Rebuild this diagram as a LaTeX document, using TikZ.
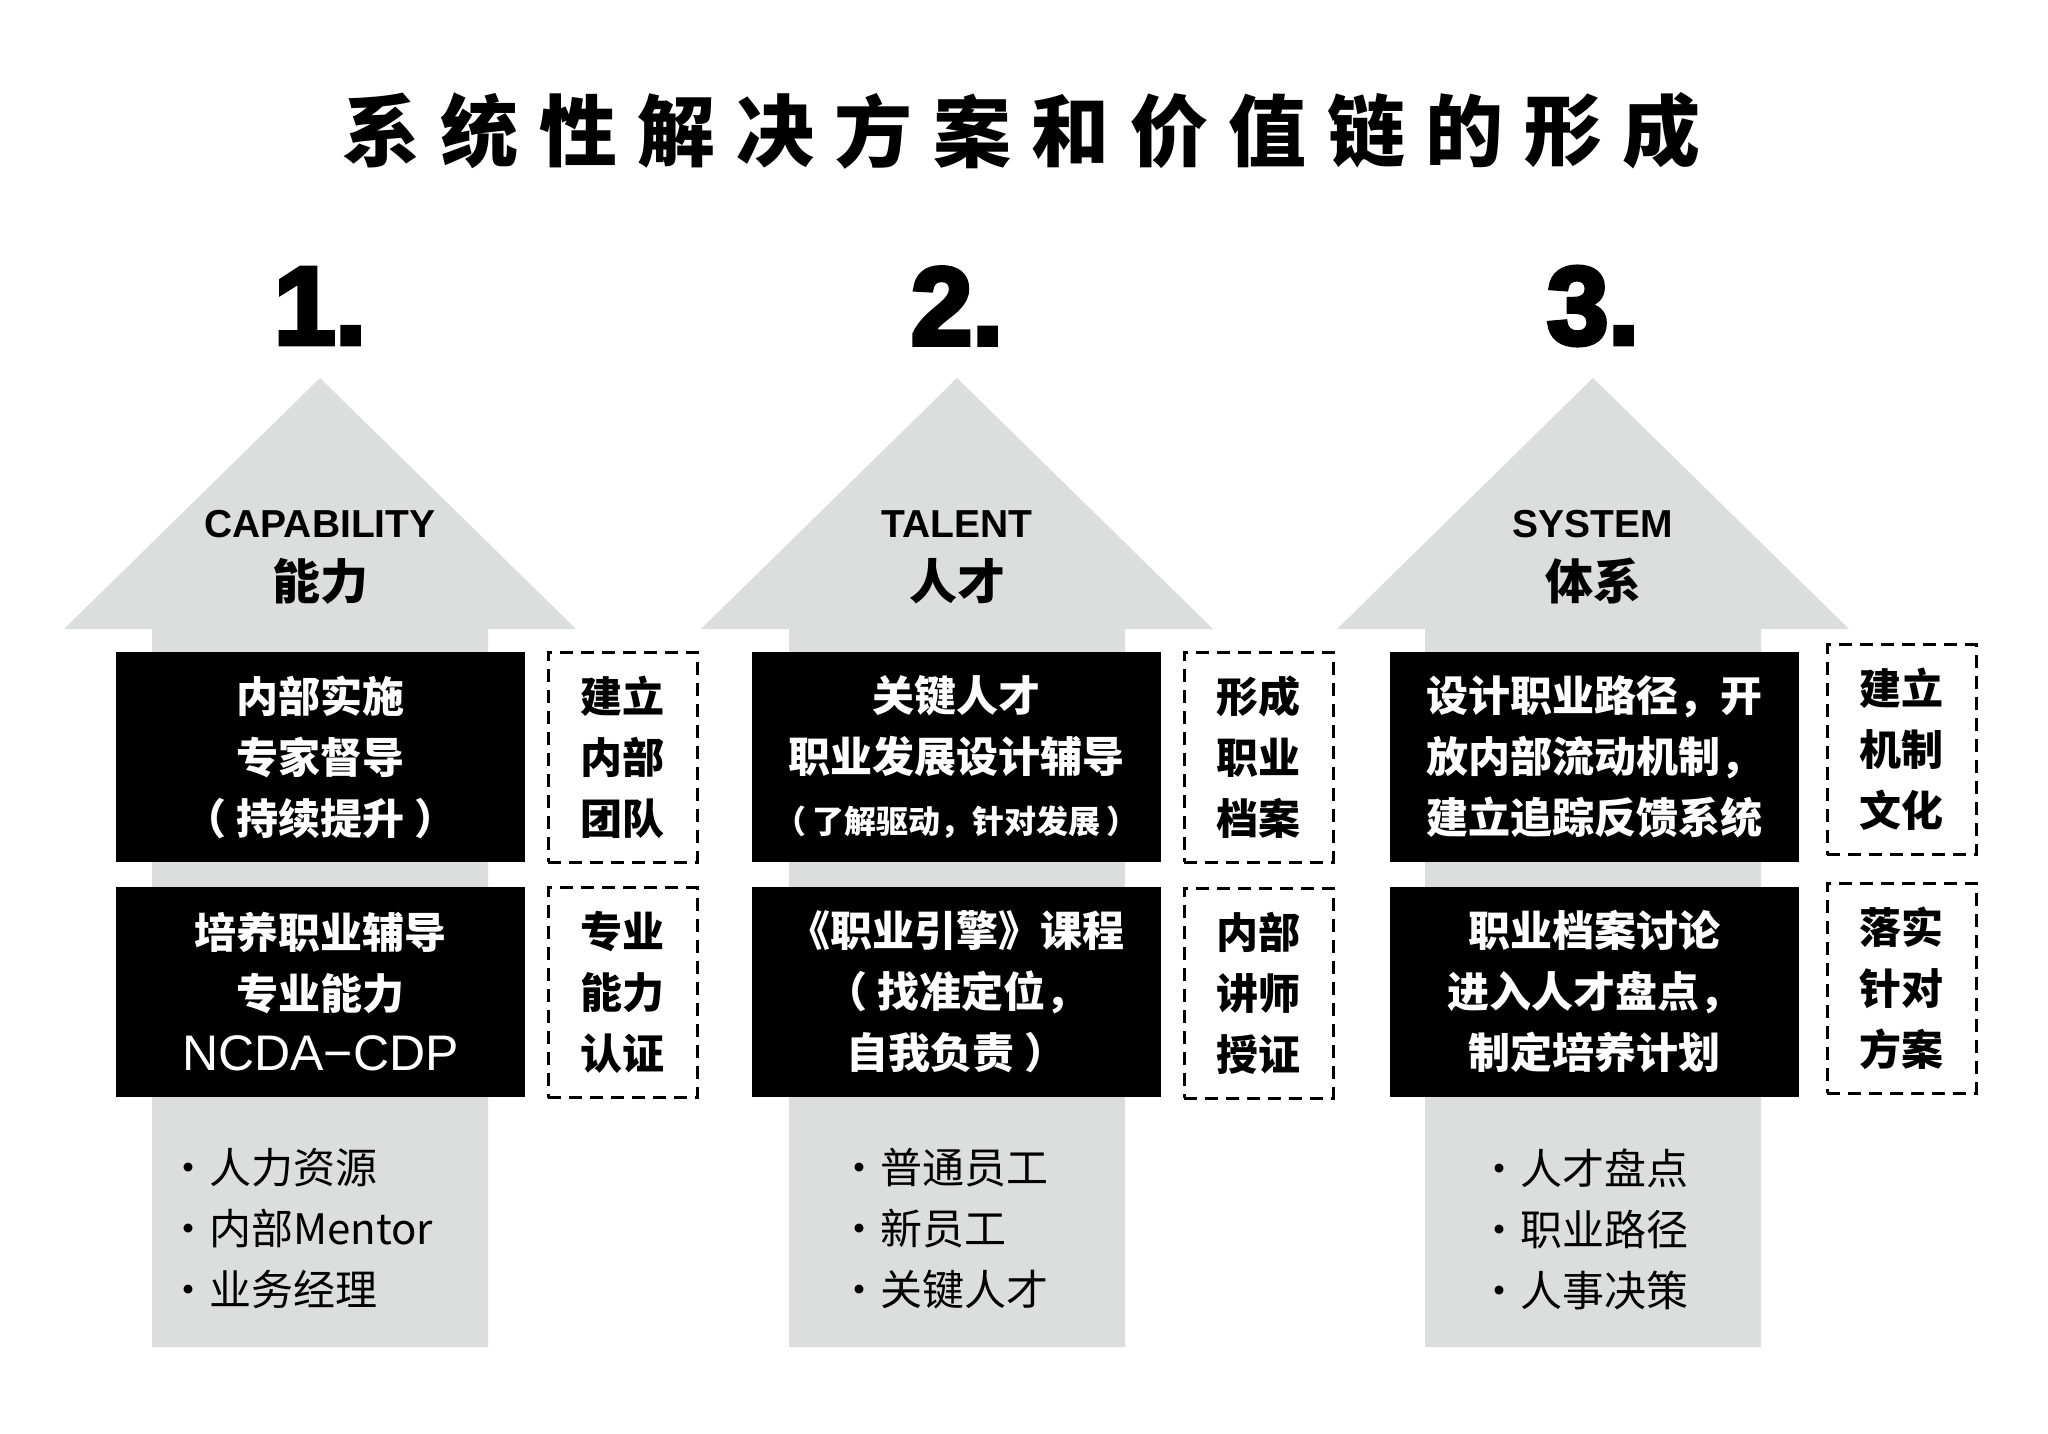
\documentclass[tikz,border=0pt]{standalone}
\usepackage{fontspec}
\setmainfont{Noto Sans CJK SC}
\newfontfamily\lat{Liberation Sans}
\newfontfamily\latb{Liberation Sans Bold}
\newfontfamily\numf{Liberation Sans Bold}
\definecolor{arrowgray}{RGB}{220,221,221}
\newcommand{\lp}{（\hspace{10pt}}
\newcommand{\rp}{\hspace{10pt}）}
\newcommand{\heavytext}[1]{\special{pdf:literal direct 2 Tr 5 w}#1\special{pdf:literal direct 0 Tr 1 w}}
\begin{document}
\begin{tikzpicture}[x=1pt,y=-1pt,
  arrowbody/.style={fill=arrowgray,draw=none},
  blackbox/.style={fill=black,text=white,minimum width=409pt,minimum height=210pt,inner sep=0pt,align=center,font=\fontsize{42}{61}\selectfont\bfseries},
  dashbox/.style={draw=black,line width=3pt,dash pattern=on 13pt off 8pt,minimum width=149pt,minimum height=210pt,inner sep=0pt,align=center,font=\fontsize{42}{61}\selectfont\bfseries},
  titlech/.style={inner sep=0pt,font=\fontsize{78}{78}\selectfont\bfseries},
  numlabel/.style={inner sep=0pt,font=\fontsize{110}{110}\selectfont\numf},
  hdren/.style={inner sep=0pt,font=\fontsize{39}{39}\selectfont\latb},
  hdrcn/.style={inner sep=0pt,font=\fontsize{48}{48}\selectfont\bfseries},
  listtext/.style={inner sep=0pt,anchor=west,align=left,font=\fontsize{42}{61}\selectfont}
]
\useasboundingbox (0,0) rectangle (2048,1433);
\fill[white] (0,0) rectangle (2048,1433);
% title
\foreach \ch [count=\i from 0] in {系,统,性,解,决,方,案,和,价,值,链,的,形,成}
  \node[titlech] (title\i) at (381+\i*98.5,131) {\ch};
% arrows
\foreach \c/\n in {320/1,957/2,1593/3}{
  \fill[arrowbody] (\c-168,1347) -- (\c-168,629) -- (\c-256,629) -- (\c,378)
     -- (\c+256,629) -- (\c+168,629) -- (\c+168,1347) -- cycle;
  \node[numlabel] (num\n) at (\c,306) {\heavytext{\n.}};
}
% arrow 1
\node[hdren] (hdrEn1) at (320,524) {CAPABILITY};
\node[hdrcn] (hdrCn1) at (320,581) {能力};
\node[blackbox] (box11) at (320.5,757) {内部实施\\专家督导\\\lp 持续提升\rp};
\node[blackbox] (box12) at (320.5,991.5) {培养职业辅导\\专业能力\\{\fontsize{50}{50}\selectfont\lat\mdseries NCDA−CDP}};
\node[dashbox] (dash11) at (622.5,757) {建立\\内部\\团队};
\node[dashbox] (dash12) at (622.5,992.5) {专业\\能力\\认证};
\node[listtext] (list1) at (167,1229) {·人力资源\\·内部Mentor\\·业务经理};
% arrow 2
\node[hdren] (hdrEn2) at (957,524) {TALENT};
\node[hdrcn] (hdrCn2) at (957,581) {人才};
\node[blackbox] (box21) at (956.5,757) {关键人才\\职业发展设计辅导\\{\fontsize{32}{32}\selectfont（\hspace{6pt}了解驱动，针对发展\hspace{6pt}）}};
\node[blackbox] (box22) at (956.5,991.5) {《职业引擎》课程\\\lp 找准定位，\\自我负责\rp};
\node[dashbox] (dash21) at (1258.5,757) {形成\\职业\\档案};
\node[dashbox] (dash22) at (1258.5,993) {内部\\讲师\\授证};
\node[listtext] (list2) at (838,1229) {·普通员工\\·新员工\\·关键人才};
% arrow 3
\node[hdren] (hdrEn3) at (1593,524) {SYSTEM};
\node[hdrcn] (hdrCn3) at (1593,581) {体系};
\node[blackbox] (box31) at (1594,757) {设计职业路径，开\\放内部流动机制，\\建立追踪反馈系统};
\node[blackbox] (box32) at (1594,991.5) {职业档案讨论\\进入人才盘点，\\制定培养计划};
\node[dashbox] (dash31) at (1901.5,749.5) {建立\\机制\\文化};
\node[dashbox] (dash32) at (1901.5,988) {落实\\针对\\方案};
\node[listtext] (list3) at (1478,1229) {·人才盘点\\·职业路径\\·人事决策};
\end{tikzpicture}
\end{document}
